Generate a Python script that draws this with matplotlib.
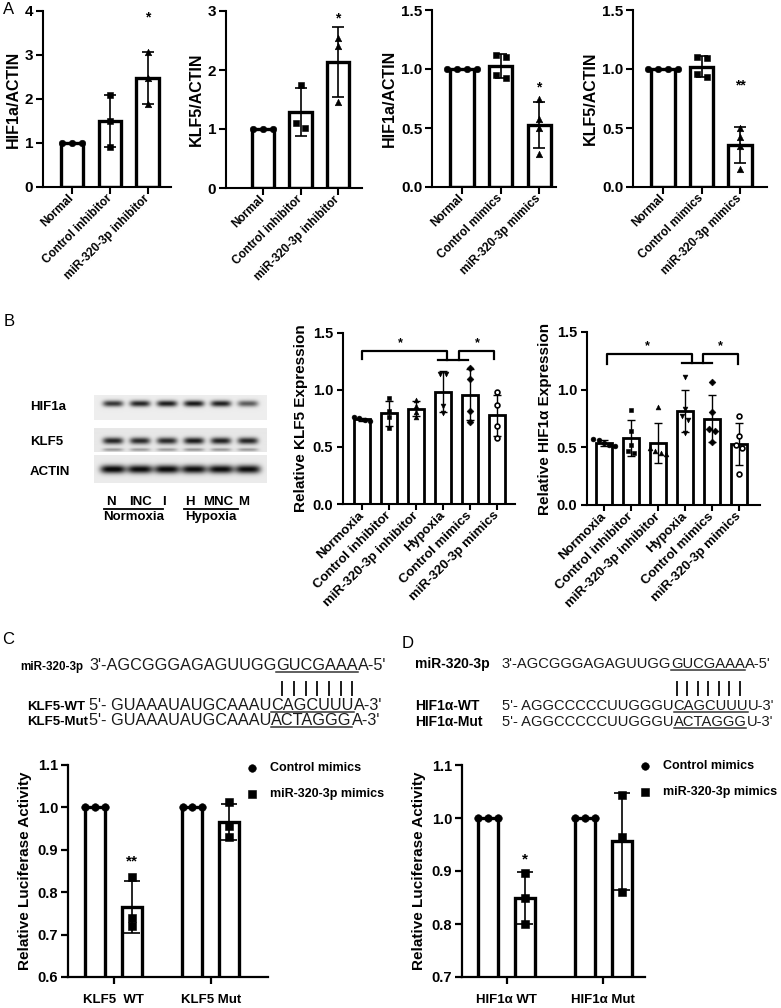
"""
miR-320-3p / HIF1a / KLF5 figure (panels A-D) recreated with matplotlib.
"""
import numpy as np
import matplotlib
matplotlib.use('Agg')
import matplotlib.pyplot as plt
from matplotlib.lines import Line2D

W, H = 781, 1008
plt.rcParams['font.family'] = ['Liberation Sans', 'DejaVu Sans']
plt.rcParams['font.weight'] = 'bold'
plt.rcParams['axes.labelweight'] = 'bold'

# ---------- data ----------
# A: western blot quantification, one value per replicate
inhib_labels = ['Normal', 'Control inhibitor', 'miR-320-3p inhibitor']
mimic_labels = ['Normal', 'Control mimics', 'miR-320-3p mimics']
a_hif_inhib = [[1.0, 1.0, 1.0], [2.10, 1.50, 0.92], [3.07, 2.47, 1.88]]
a_klf_inhib = [[1.0, 1.0, 1.0], [1.75, 1.10, 1.02], [2.55, 2.40, 1.45]]
a_hif_mimic = [[1.0, 1.0, 1.0, 1.0], [1.12, 1.10, 0.95, 0.92], [0.75, 0.58, 0.50, 0.28]]
a_klf_mimic = [[1.0, 1.0, 1.0, 1.0], [1.09, 1.10, 0.96, 0.93], [0.50, 0.42, 0.35, 0.15]]
a_stars = ['*', '*', '*', '**']
a_star_y = [3.85, 2.88, 0.84, 0.86]

# B: normoxia / hypoxia experiment
b_labels = ['Normoxia', 'Control inhibitor', 'miR-320-3p inhibitor',
            'Hypoxia', 'Control mimics', 'miR-320-3p mimics']
b_klf5 = [[0.76, 0.75, 0.74, 0.73], [0.93, 0.82, 0.76, 0.67], [0.91, 0.86, 0.81, 0.76],
          [1.14, 1.14, 0.86, 0.80], [1.19, 1.10, 0.82, 0.72], [0.98, 0.87, 0.68, 0.58]]
b_hif1a = [[0.57, 0.56, 0.54, 0.52, 0.51], [0.82, 0.64, 0.52, 0.47, 0.45],
           [0.85, 0.49, 0.47, 0.45, 0.44], [1.11, 0.83, 0.77, 0.74, 0.62],
           [1.07, 0.81, 0.66, 0.64, 0.55], [0.77, 0.60, 0.52, 0.49, 0.27]]
blot_rows = ['HIF1a', 'KLF5', 'ACTIN']
blot_hif1a = [0.82, 0.90, 0.94, 0.96, 0.92, 0.65]
blot_klf5 = [0.90, 0.88, 0.88, 0.95, 0.92, 0.90]
blot_actin = [1.0, 0.97, 0.98, 0.96, 0.97, 0.96]
lane_codes = ['N', 'INC', 'I', 'H', 'MNC', 'M']
lane_groups = ['Normoxia', 'Hypoxia']

# C / D: luciferase reporter
c_labels = ['KLF5  WT', 'KLF5 Mut']
c_ctrl = [[1.0, 1.0, 1.0], [1.0, 1.0, 1.0]]
c_mimic = [[0.835, 0.74, 0.72], [1.012, 0.955, 0.93]]
d_labels = ['HIF1α WT', 'HIF1α Mut']
d_ctrl = [[1.0, 1.0, 1.0], [1.0, 1.0, 1.0]]
d_mimic = [[0.897, 0.85, 0.80], [1.043, 0.965, 0.86]]
legend_labels = ['Control mimics', 'miR-320-3p mimics']

mir_seq = ("3'-AGCGGGAGAGUUGG", "GUCGAAA", "A-5'")
klf_wt = ("5'- GUAAAUAUGCAAAU", "CAGCUUU", "A-3'")
klf_mut = ("5'- GUAAAUAUGCAAAU", "ACTAGGG", "A-3'")
hif_wt = ("5'- AGGCCCCCUUGGGU", "CAGCUUU", "U-3'")
hif_mut = ("5'- AGGCCCCCUUGGGU", "ACTAGGG", "U-3'")

fig = plt.figure(figsize=(W / 100, H / 100), dpi=100)


def fx(x):
    return x / W


def fy(y):
    return 1 - y / H


def add_ax(l, t, r, b):
    return fig.add_axes([l / W, 1 - b / H, (r - l) / W, (b - t) / H])


def swarm(vals, dx, dy):
    # spread points with near-equal values sideways (Prism style)
    vals = np.asarray(vals, float)
    order = np.argsort(-vals, kind='stable')
    off = np.zeros(len(vals))
    i = 0
    while i < len(order):
        j = i + 1
        while j < len(order) and vals[order[j - 1]] - vals[order[j]] < dy:
            j += 1
        k = j - i
        off[order[i:j]] = (np.arange(k) - (k - 1) / 2) * dx
        i = j
    return off


def draw_bars(ax, xs, data, width, markers, faces, lw, ms, cap, dx, dy):
    handles = []
    for x, pts, m, fc in zip(xs, data, markers, faces):
        pts = np.asarray(pts, float)
        mean, sd = pts.mean(), pts.std(ddof=1)
        ax.bar(x, mean, width, color='white', edgecolor='black', linewidth=lw, zorder=2)
        if sd > 0:
            ax.errorbar(x, mean, yerr=sd, fmt='none', ecolor='black', elinewidth=lw * 0.5,
                        capsize=cap, capthick=lw * 0.5, zorder=3)
        h = ax.scatter(x + swarm(pts, dx, dy), pts, marker=m, s=ms, facecolor=fc,
                       edgecolor='black', linewidths=1.2 if fc == 'white' else 0.4,
                       zorder=4, clip_on=False)
        handles.append(h)
    return handles


def style(ax, lw, tlen, pad=2):
    for s in ['top', 'right']:
        ax.spines[s].set_visible(False)
    for s in ['left', 'bottom']:
        ax.spines[s].set_linewidth(lw)
    ax.tick_params(width=lw, length=tlen, direction='out', pad=pad)


# ---------- panel A ----------
fig.text(fx(9), fy(10), 'A', fontsize=12, fontweight='normal', ha='center', va='center')
a_specs = [
    (a_hif_inhib, inhib_labels, 'HIF1a/ACTIN', (43, 11, 171, 187), (-0.763, 2.61), [0, 1, 2, 3, 4], '{:.0f}'),
    (a_klf_inhib, inhib_labels, 'KLF5/ACTIN', (226, 11, 362, 188), (-0.987, 2.64), [0, 1, 2, 3], '{:.0f}'),
    (a_hif_mimic, mimic_labels, 'HIF1a/ACTIN', (432, 10, 556, 187), (-0.78, 2.44), [0, 0.5, 1.0, 1.5], '{:.1f}'),
    (a_klf_mimic, mimic_labels, 'KLF5/ACTIN', (633, 10, 767, 187), (-0.78, 2.7), [0, 0.5, 1.0, 1.5], '{:.1f}'),
]
for k, (data, labels, ylab, box, xl, yt, fmt) in enumerate(a_specs):
    ax = add_ax(*box)
    top = yt[-1]
    pos = np.arange(len(data))
    draw_bars(ax, pos, data, 0.6, ['o', 's', '^'], ['black'] * 3, 2.4, 22, 4.5,
              0.26, top * 7 / (box[3] - box[1]))
    ax.text(pos[-1], a_star_y[k], a_stars[k], ha='center', va='center', fontsize=10)
    ax.set_xlim(*xl)
    ax.set_ylim(0, top)
    ax.set_yticks(yt)
    ax.set_yticklabels([fmt.format(v) for v in yt], fontsize=11)
    ax.set_xticks(pos)
    ax.set_xticklabels(labels, rotation=45, ha='right', va='center',
                       rotation_mode='anchor', fontsize=8.5)
    ax.set_ylabel(ylab, fontsize=11.5, labelpad=3)
    style(ax, 1.5, 5)

# ---------- panel B: blot ----------
fig.text(fx(9), fy(322), 'B', fontsize=12, fontweight='normal', ha='center', va='center')


def blot_strip(box, levels, bands, halfw, bg):
    ax = add_ax(*box)
    ny = box[3] - box[1]
    xs = np.linspace(-0.7, 5.7, (box[2] - box[0]) * 2)
    ys = np.arange(ny * 2) / 2
    img = np.zeros((len(ys), len(xs)))
    for i, lev in enumerate(levels):
        px = np.exp(-np.abs((xs - i) / halfw) ** 4)
        for c, s, f in bands:
            img += lev * f * np.outer(np.exp(-((ys - c) / s) ** 2), px)
    shade = bg - (bg - 0.05) * np.clip(img, 0, 1)
    ax.imshow(shade, cmap='gray', vmin=0, vmax=1, aspect='auto',
              extent=(-0.7, 5.7, ny, 0), interpolation='bilinear')
    ax.axis('off')


blot_strip((94, 395, 267, 420), blot_hif1a, [(9, 3.0, 1.0)], 0.38, 0.93)
blot_strip((94, 428, 267, 452), blot_klf5, [(13, 3.2, 1.0), (21.5, 1.5, 0.4)], 0.38, 0.91)
blot_strip((94, 455, 267, 483), blot_actin, [(14, 4.2, 1.05)], 0.47, 0.92)
for name, yc in zip(blot_rows, [407, 442, 472]):
    fig.text(fx(30), fy(yc), name, fontsize=9.5, ha='left', va='center')
for code, xc in zip(lane_codes, [111, 141, 164, 190, 218, 244]):
    fig.text(fx(xc), fy(502), code, fontsize=9.5, ha='center', va='center')
for name, (x0, x1) in zip(lane_groups, [(104, 163), (184, 238)]):
    fig.add_artist(Line2D([fx(x0), fx(x1)], [fy(509), fy(509)], color='black', lw=1.3))
    fig.text(fx((x0 + x1) / 2), fy(517), name, fontsize=9.5, ha='center', va='center')

# ---------- panel B: quantification ----------
b_markers = ['o', 's', '^', 'v', 'D', 'o']
b_faces = ['black'] * 5 + ['white']
b_specs = [
    (b_klf5, 'Relative KLF5 Expression', (343, 333, 515, 504), (-0.7, 5.67),
     (1.342, 1.27, 1.263), (0.0, 3.14, 2.8, 3.94, 3.6, 4.89), (1.44, 4.28, 1.41)),
    (b_hif1a, 'Relative HIF1α Expression', (587, 332, 760, 505), (-0.63, 5.78),
     (1.307, 1.22, 1.23), (0.1, 3.25, 2.88, 3.99, 3.68, 4.95), (1.6, 4.3, 1.38)),
]
for data, ylab, box, xl, (yb, yd, yt_), (l0, l1, t0, t1, r0, r1), (s0, s1, sy) in b_specs:
    ax = add_ax(*box)
    pos = np.arange(len(data))
    draw_bars(ax, pos, data, 0.58, b_markers, b_faces, 2.0, 12, 3.2, 0.2, 0.045)
    ax.plot([l0, l0, l1, l1], [yd, yb, yb, yt_], color='black', lw=1.6, zorder=5)
    ax.plot([r0, r0, r1, r1], [yt_, yb, yb, yd], color='black', lw=1.6, zorder=5)
    ax.plot([t0, t1], [yt_, yt_], color='black', lw=1.6, zorder=5)
    ax.text(s0, sy, '*', ha='center', va='center', fontsize=9)
    ax.text(s1, sy, '*', ha='center', va='center', fontsize=9)
    ax.set_xlim(*xl)
    ax.set_ylim(0, 1.5)
    ax.set_yticks([0, 0.5, 1.0, 1.5])
    ax.set_yticklabels(['0.0', '0.5', '1.0', '1.5'], fontsize=10.5)
    ax.set_xticks(pos)
    ax.set_xticklabels(b_labels, rotation=45, ha='right', va='center',
                       rotation_mode='anchor', fontsize=9.5)
    ax.set_ylabel(ylab, fontsize=11, labelpad=3)
    style(ax, 1.5, 4, pad=3)


# ---------- panels C / D: sequences ----------
def seq_line(x, y, parts, size):
    r = fig.canvas.get_renderer()
    cur = fx(x)
    ext = None
    for i, s in enumerate(parts):
        t = fig.text(cur, fy(y), s, fontsize=size, fontweight='normal', va='baseline',
                     color='#1a1a1a')
        bb = t.get_window_extent(r)
        if i == 1:
            ext = (bb.x0, bb.x1)
            fig.add_artist(Line2D([bb.x0 / W, bb.x1 / W], [fy(y + 2), fy(y + 2)],
                                  color='#333333', lw=1.1))
        cur = bb.x1 / W
    return ext


def seq_block(letter, lx, ly, x_seq, rows, labels, size, bar_y):
    fig.text(fx(lx), fy(ly), letter, fontsize=12, fontweight='normal', ha='center', va='center')
    ext = None
    for (parts, yb), (name, xl, fs) in zip(rows, labels):
        fig.text(fx(xl), fy(yb), name, fontsize=fs, va='baseline')
        e = seq_line(x_seq, yb, parts, size)
        if ext is None:
            ext = e
    # base-pairing ticks under the seed region
    x0, x1 = ext
    n = len(rows[0][0][1])
    step = (x1 - x0) / n
    for i in range(n):
        xc = x0 + step * (i + 0.5)
        fig.add_artist(Line2D([xc / W, xc / W], [fy(bar_y[0]), fy(bar_y[1])],
                              color='#1a1a1a', lw=1.4))


seq_block('C', 8, 640, 89, [(mir_seq, 670), (klf_wt, 710), (klf_mut, 725)],
          [('miR-320-3p', 20, 8.4), ('KLF5-WT', 27, 9.5), ('KLF5-Mut', 27, 9.5)],
          11.7, (682, 695))
seq_block('D', 408, 643, 502, [(mir_seq, 668), (hif_wt, 710), (hif_mut, 726)],
          [('miR-320-3p', 415, 10), ('HIF1α-WT', 415, 10), ('HIF1α-Mut', 415, 10)],
          10.6, (682, 695))

# ---------- panels C / D: luciferase bars ----------
cd_specs = [
    (c_ctrl, c_mimic, c_labels, (68, 765, 268, 977), (-0.47, 1.59), (0.6, 1.1),
     [0.6, 0.7, 0.8, 0.9, 1.0, 1.1], '**', 0.872, (241, 756)),
    (d_ctrl, d_mimic, d_labels, (462, 765, 645, 977), (-0.46, 1.43), (0.7, 1.1),
     [0.7, 0.8, 0.9, 1.0, 1.1], '*', 0.922, (634, 754)),
]
for ctrl, mimic, labels, box, xl, yl, yt, star, star_y, (lgx, lgy) in cd_specs:
    ax = add_ax(*box)
    groups = np.arange(len(ctrl))
    dy = (yl[1] - yl[0]) * 8 / (box[3] - box[1])
    hc = draw_bars(ax, groups - 0.19, ctrl, 0.21, ['o', 'o'], ['black'] * 2, 2.4, 30, 5.5, 0.1, dy)
    hm = draw_bars(ax, groups + 0.19, mimic, 0.21, ['s', 's'], ['black'] * 2, 2.4, 30, 5.5, 0.1, dy)
    ax.text(groups[0] + 0.19, star_y, star, ha='center', va='center', fontsize=11)
    ax.set_xlim(*xl)
    ax.set_ylim(*yl)
    ax.set_yticks(yt)
    ax.set_yticklabels(['{:.1f}'.format(v) for v in yt], fontsize=10.5)
    ax.set_xticks(groups)
    ax.set_xticklabels(labels, fontsize=9.5)
    ax.set_ylabel('Relative Luciferase Activity', fontsize=11, labelpad=4)
    style(ax, 1.6, 5)
    ax.tick_params(axis='x', pad=7)
    ax.legend([hc[0], hm[0]], legend_labels, loc='upper left',
              bbox_to_anchor=(fx(lgx), fy(lgy)), bbox_transform=fig.transFigure,
              frameon=False, borderpad=0, handlelength=0.8, handletextpad=1.0,
              labelspacing=1.1, prop={'size': 9, 'weight': 'bold'})

fig.savefig('out.png', dpi=100)
